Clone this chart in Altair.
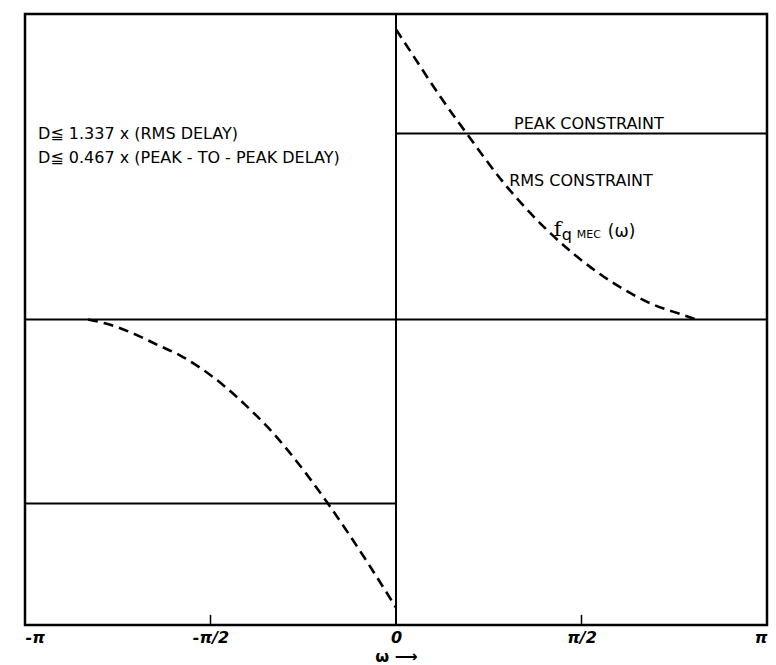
import math
import altair as alt
import pandas as pd

PI = math.pi

# dashed curve f_qMEC(omega); omega given in units of pi
right_w = [0.0, 0.04, 0.121, 0.194, 0.291, 0.356, 0.418, 0.480, 0.544, 0.615, 0.687, 0.768, 0.81]
right_f = [1.0, 0.922, 0.765, 0.635, 0.47, 0.375, 0.295, 0.225, 0.162, 0.103, 0.055, 0.018, 0.0]
left_w = [-0.830, -0.782, -0.714, -0.642, -0.580, -0.526, -0.464, -0.399, -0.345, -0.291, -0.237, -0.183, -0.075, 0.0]
left_f = [0.0, -0.014, -0.045, -0.088, -0.125, -0.168, -0.228, -0.303, -0.372, -0.452, -0.54, -0.635, -0.841, -0.993]

# constraint lines
peak_right = 0.641
peak_left = -0.634

# axis ticks
tick_values = [-1.0, -0.5, 0.0, 0.5, 1.0]
tick_labels = ["-π", "-π/2", "0", "π/2", "π"]

y_lim = 1.053

curve = pd.DataFrame({
    "w": [v * PI for v in right_w] + [v * PI for v in left_w],
    "f": right_f + left_f,
    "seg": ["right"] * len(right_w) + ["left"] * len(left_w),
})

xs = alt.Scale(domain=[-PI, PI], nice=False, zero=False)
ys = alt.Scale(domain=[-y_lim, y_lim], nice=False, zero=False)

label_expr = "[" + ",".join("'" + t + "'" for t in tick_labels) + "][round(datum.value*2/PI)+2]"
x_axis = alt.Axis(
    values=[v * PI for v in tick_values], labelExpr=label_expr, ticks=False, domain=False,
    grid=False, labelFontSize=16, labelFontWeight="bold", labelFontStyle="italic",
    labelFont="DejaVu Sans", labelColor="black", labelPadding=4,
    titleFontSize=16, titleFont="DejaVu Sans", titleFontWeight="bold", titleColor="black",
    titleBaseline="middle", titleY=31, labelOverlap=False,
)

def X(field):
    return alt.X(field, type="quantitative", scale=xs, axis=x_axis, title="ω ⟶")

def Y(field):
    return alt.Y(field, type="quantitative", scale=ys, axis=None)

line = alt.Chart(curve).mark_line(
    color="black", strokeWidth=2.6, strokeDash=[10, 6], interpolate="monotone"
).encode(x=X("w"), y=Y("f"), detail="seg:N")

zero_h = alt.Chart(pd.DataFrame({"f": [0.0]})).mark_rule(color="black", strokeWidth=2).encode(y=Y("f"))
zero_v = alt.Chart(pd.DataFrame({"w": [0.0]})).mark_rule(color="black", strokeWidth=2).encode(x=X("w"))

cons = pd.DataFrame({"w1": [0.0, -PI], "w2": [PI, 0.0], "f": [peak_right, peak_left]})
cons_l = alt.Chart(cons).mark_rule(color="black", strokeWidth=2).encode(x=X("w1"), x2="w2", y=Y("f"))

ticks = pd.DataFrame({"w": [-PI / 2, PI / 2], "f1": [-y_lim, -y_lim], "f2": [-y_lim + 0.035, -y_lim + 0.035]})
tick_l = alt.Chart(ticks).mark_rule(color="black", strokeWidth=1.5).encode(x=X("w"), y=Y("f1"), y2="f2")

txt = pd.DataFrame({
    "w": [-0.965 * PI, -0.965 * PI, 0.318 * PI, 0.305 * PI],
    "f": [0.641, 0.555, 0.675, 0.479],
    "text": ["D≦ 1.337 x (RMS DELAY)", "D≦ 0.467 x (PEAK - TO - PEAK  DELAY)", "PEAK CONSTRAINT", "RMS CONSTRAINT"],
})
txt_l = alt.Chart(txt).mark_text(
    align="left", baseline="middle", fontSize=16, font="DejaVu Sans", color="black"
).encode(x=X("w"), y=Y("f"), text="text:N")

fq = pd.DataFrame({"w": [0.42 * PI], "f": [0.31]})
f_l = alt.Chart(fq).mark_text(align="left", baseline="middle", fontSize=21, dx=2,
                              font="DejaVu Serif", color="black").encode(x=X("w"), y=Y("f"), text=alt.value("f"))
q_l = alt.Chart(fq).mark_text(align="left", baseline="middle", fontSize=16, dx=10, dy=5,
                              font="DejaVu Sans", color="black").encode(x=X("w"), y=Y("f"), text=alt.value("q"))
mec_l = alt.Chart(fq).mark_text(align="left", baseline="middle", fontSize=11, dx=25, dy=5,
                                font="DejaVu Sans", color="black").encode(x=X("w"), y=Y("f"), text=alt.value("MEC"))
om_l = alt.Chart(fq).mark_text(align="left", baseline="middle", fontSize=17, dx=56, dy=2,
                               font="DejaVu Sans", color="black").encode(x=X("w"), y=Y("f"), text=alt.value("(ω)"))

chart = alt.layer(zero_h, zero_v, cons_l, tick_l, line, txt_l, f_l, q_l, mec_l, om_l).properties(
    width=742, height=611,
    padding={"left": 25, "top": 14, "right": 9, "bottom": 40},
    autosize=alt.AutoSizeParams(type="none"),
    background="white",
).configure_view(stroke="black", strokeWidth=2.5)

chart.save("out.html", embed_options={"renderer": "svg", "actions": False})
